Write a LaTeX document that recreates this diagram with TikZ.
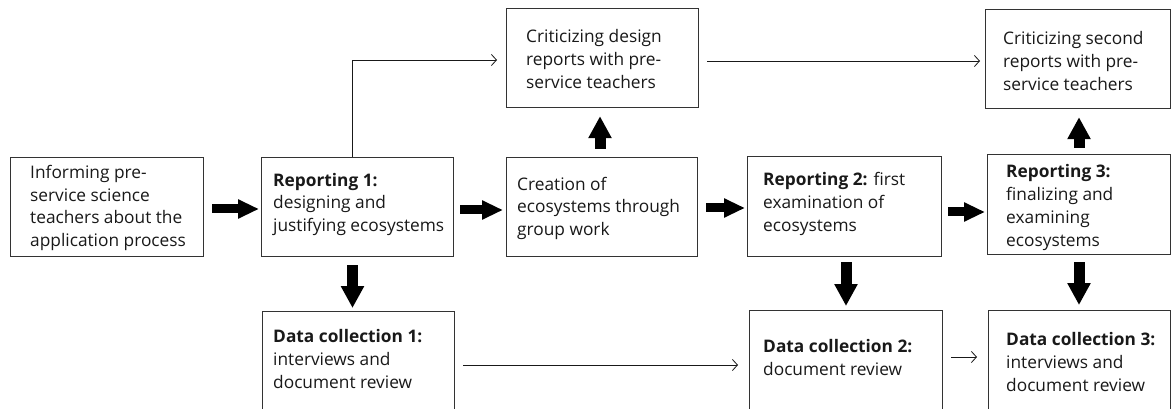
\documentclass[tikz,border=0pt]{standalone}
\usepackage{fontspec}
\setmainfont{Open Sans}
\usetikzlibrary{arrows.meta}
\begin{document}
\begin{tikzpicture}[x=1pt,y=-1pt,
 box/.style={draw=black!80,line width=1.2pt,inner sep=0pt,anchor=north west},
 txt/.style={anchor=base west,inner sep=0pt,align=left,font=\fontsize{17.3}{23}\selectfont,text=black!90},
 fat/.style={line width=9pt,-{Triangle[length=21pt,width=18pt]}},
 fatv/.style={line width=11pt,-{Triangle[length=22pt,width=22pt]}},
 thinarr/.style={line width=0.9pt,draw=black!90,-{Straight Barb[length=5pt,width=11pt,line width=0.8pt]}}]
\useasboundingbox (0,0) rectangle (1171,409);
\fill[white] (0,0) rectangle (1171,409);
\clip (0,0) rectangle (1171,409);

% boxes
\node[box,minimum width=193pt,minimum height=99pt] (inf) at (10,157) {};
\node[box,minimum width=192pt,minimum height=99pt] (rep1) at (261,157) {};
\node[box,minimum width=191pt,minimum height=99pt] (cre) at (506,157) {};
\node[box,minimum width=192pt,minimum height=99pt] (crd) at (506,8) {};
\node[box,minimum width=194pt,minimum height=100pt] (rep2) at (747,156) {};
\node[box,minimum width=183pt,minimum height=100pt] (rep3) at (987,154) {};
\node[box,minimum width=185pt,minimum height=99pt] (crs) at (985,9) {};
\node[box,minimum width=192pt,minimum height=120pt] (dc1) at (262,311) {};
\node[box,minimum width=193pt,minimum height=120pt] (dc2) at (749,310) {};
\node[box,minimum width=182pt,minimum height=120pt] (dc3) at (988,310) {};

% texts (anchor = baseline of the last line)
\node[txt] (inft) at (30,247) {Informing pre-\\service science\\teachers about the\\application process};
\node[txt] (rep1t) at (273,232) {\textbf{Reporting 1:}\\designing and\\justifying ecosystems};
\node[txt] (cret) at (517,236) {Creation of\\ecosystems through\\group work};
\node[txt] (crdt) at (526,89) {Criticizing design\\reports with pre-\\service teachers};
\node[txt] (rep2t) at (763,231) {\textbf{Reporting 2:} first\\examination of\\ecosystems};
\node[txt] (rep3t) at (1006,246) {\textbf{Reporting 3:}\\finalizing and\\examining\\ecosystems};
\node[txt] (crst) at (1003,91) {Criticizing second\\reports with pre-\\service teachers};
\node[txt] (dc1t) at (273,388) {\textbf{Data collection 1:}\\interviews and\\document review};
\node[txt] (dc2t) at (763,375) {\textbf{Data collection 2:}\\document review};
\node[txt] (dc3t) at (1006,391) {\textbf{Data collection 3:}\\interviews and\\document review};

% fat arrows
\draw[fat,shorten <=8pt,shorten >=2pt] (inf.east |- 0,209) -- (rep1.west |- 0,209);
\draw[fat,shorten <=6pt,shorten >=3pt] (rep1.east |- 0,210) -- (cre.west |- 0,210);
\draw[fat,shorten <=8pt,shorten >=2pt] (cre.east |- 0,208) -- (rep2.west |- 0,208);
\draw[fat,shorten <=6pt,shorten >=2pt] (rep2.east |- 0,212) -- (rep3.west |- 0,212);
\draw[fatv,shorten <=8pt,shorten >=8pt] (cre.north -| 600,0) -- (crd.south -| 600,0);
\draw[fatv,shorten <=6pt,shorten >=8pt] (rep3.north -| 1079,0) -- (crs.south -| 1079,0);
\draw[fatv,shorten <=8pt,shorten >=3pt] (rep1.south -| 352.5,0) -- (dc1.north -| 352.5,0);
\draw[fatv,shorten <=5pt,shorten >=4pt] (rep2.south -| 846,0) -- (dc2.north -| 846,0);
\draw[fatv,shorten <=7pt,shorten >=5pt] (rep3.south -| 1079,0) -- (dc3.north -| 1079,0);

% thin arrows
\draw[thinarr,shorten >=9pt] (rep1.north -| 352,0) -- (352,60) -- (crd.west |- 0,60);
\draw[thinarr,shorten <=8pt,shorten >=5pt] (crd.east |- 0,61) -- (crs.west |- 0,61);
\draw[thinarr,shorten <=8pt,shorten >=11pt] (dc1.east |- 0,365) -- (dc2.west |- 0,365);
\draw[thinarr,shorten <=8pt,shorten >=11pt] (dc2.east |- 0,357) -- (dc3.west |- 0,357);
\end{tikzpicture}
\end{document}
